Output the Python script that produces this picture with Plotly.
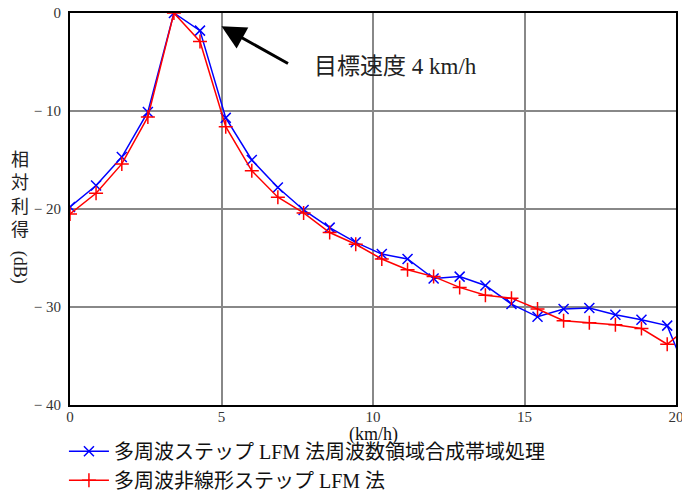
import plotly.graph_objects as go

speed_kmh = [0, 0.86, 1.71, 2.57, 3.43, 4.29, 5.14, 6.0, 6.86, 7.71, 8.57, 9.43,
             10.29, 11.14, 12.0, 12.86, 13.71, 14.57, 15.43, 16.29, 17.14, 18.0,
             18.86, 19.71, 20.57]
gain_freq_domain = [-19.8, -17.6, -14.7, -10.1, 0, -1.8, -10.7, -15.0, -17.8, -20.1,
                    -21.9, -23.4, -24.6, -25.1, -27.1, -26.9, -27.8, -29.7, -31.0,
                    -30.2, -30.1, -30.8, -31.3, -31.9, -38.4]
gain_nonlinear = [-20.5, -18.4, -15.4, -10.6, 0, -2.9, -11.6, -16.1, -18.8, -20.4,
                  -22.4, -23.6, -25.1, -26.2, -26.9, -28.0, -28.8, -29.1, -30.2,
                  -31.4, -31.6, -31.8, -32.2, -33.8, -31.6]
name_blue = "多周波ステップ LFM 法周波数領域合成帯域処理"
name_red = "多周波非線形ステップ LFM 法"
x_ticks = [0, 5, 10, 15, 20]
y_ticks = [0, -10, -20, -30, -40]
y_ticktext = ["0", "− 10", "− 20", "− 30", "− 40"]

FONT = "Liberation Serif, Noto Sans CJK JP, serif"

fig = go.Figure()
fig.add_trace(go.Scatter(
    x=speed_kmh, y=gain_freq_domain, name=name_blue, mode="lines+markers",
    line=dict(color="#0000FF", width=1.5),
    marker=dict(symbol="x-thin", size=10, line=dict(color="#0000FF", width=1.5)),
))
fig.add_trace(go.Scatter(
    x=speed_kmh, y=gain_nonlinear, name=name_red, mode="lines+markers",
    line=dict(color="#FF0000", width=1.5),
    marker=dict(symbol="cross-thin", size=10, line=dict(color="#FF0000", width=1.5)),
))

axis_common = dict(showgrid=True, gridcolor="#888888", gridwidth=1.5,
                   showline=True, linecolor="black", linewidth=2, mirror=True,
                   zeroline=False, ticks="", automargin=False,
                   tickfont=dict(family=FONT, size=15, color="#333333"))
fig.update_xaxes(range=[0, 20], tickvals=x_ticks, ticklabelstandoff=-3,
                 ticklabeloverflow="allow", **axis_common)
fig.update_yaxes(range=[-40, 0], tickvals=y_ticks, ticktext=y_ticktext, ticklabelstandoff=4,
                 **axis_common)

fig.add_annotation(xref="paper", yref="paper", x=0.5, y=-0.075, text="(km/h)",
                   showarrow=False, font=dict(family=FONT, size=18, color="#111111"),
                   xanchor="center", yanchor="middle")
fig.add_annotation(xref="paper", yref="paper", x=-0.082, y=0.535, text="相<br>対<br>利<br>得",
                   showarrow=False, font=dict(family=FONT, size=18, color="#222222"),
                   xanchor="center", yanchor="middle")
fig.add_annotation(xref="paper", yref="paper", x=-0.082, y=0.352, text="(dB)", textangle=90,
                   showarrow=False, font=dict(family=FONT, size=18, color="#222222"),
                   xanchor="center", yanchor="middle")

fig.add_annotation(x=5.0, y=-1.36, ax=68, ay=38, text="", showarrow=True,
                   arrowhead=2, arrowsize=1.6, arrowwidth=3, arrowcolor="black")
fig.add_annotation(x=10.75, y=-5.5, text="目標速度 4 km/h", showarrow=False,
                   font=dict(family=FONT, size=23, color="#222222"))

fig.update_layout(
    width=682, height=492,
    margin=dict(l=70, r=6, t=13, b=87, autoexpand=False),
    paper_bgcolor="white", plot_bgcolor="white",
    showlegend=True,
    legend=dict(x=-0.01, y=-0.068, xanchor="left", yanchor="top",
                font=dict(family=FONT, size=20, color="#111111"),
                bgcolor="rgba(0,0,0,0)", tracegroupgap=0, itemwidth=40),
)

fig.write_html("out.html", config={"displayModeBar": False},
               post_script="document.body.style.margin='0';")
